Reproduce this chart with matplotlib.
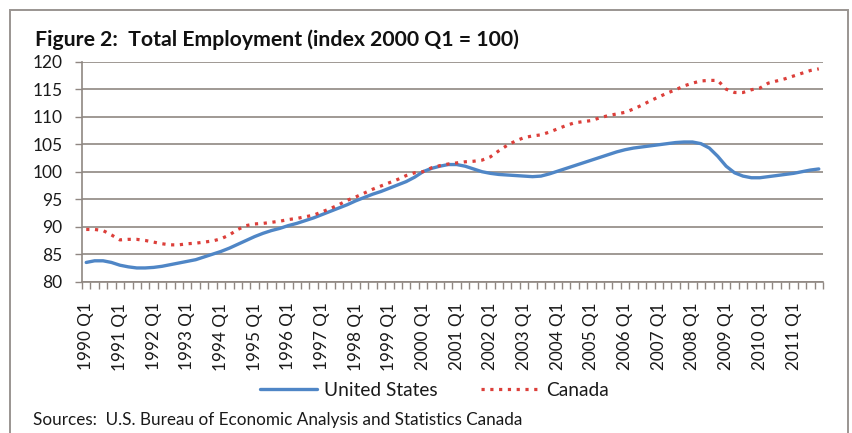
import numpy as np
import matplotlib
matplotlib.use("Agg")
import matplotlib.pyplot as plt
from matplotlib.patches import Rectangle

plt.rcParams['font.family'] = ['Lato', 'DejaVu Sans']

years = list(range(1990, 2012))
quarters = [f"{y} Q{q}" for y in years for q in range(1, 5)]
tick_labels = [f"{y} Q1" for y in years]

united_states = [
    83.5, 83.8, 83.8, 83.5, 83.0, 82.7, 82.5, 82.5, 82.6, 82.8, 83.1, 83.4,
    83.7, 84.0, 84.5, 85.0, 85.5, 86.1, 86.8, 87.5, 88.2, 88.8, 89.3, 89.7,
    90.2, 90.6, 91.1, 91.6, 92.2, 92.8, 93.4, 94.0, 94.7, 95.3, 95.9, 96.4,
    97.0, 97.6, 98.2, 99.0, 100.0, 100.6, 101.0, 101.3, 101.3, 101.0, 100.5, 100.0,
    99.7, 99.5, 99.4, 99.3, 99.2, 99.1, 99.2, 99.6, 100.1, 100.6, 101.1, 101.6,
    102.1, 102.6, 103.1, 103.6, 104.0, 104.3, 104.5, 104.7, 104.9, 105.1, 105.3, 105.4,
    105.4, 105.1, 104.3, 102.8, 101.0, 99.8, 99.2, 98.9, 98.9, 99.1, 99.3, 99.5,
    99.7, 100.0, 100.3, 100.5,
]

canada = [
    89.5, 89.5, 89.3, 88.5, 87.6, 87.7, 87.7, 87.5, 87.2, 86.9, 86.7, 86.7,
    86.9, 87.0, 87.2, 87.4, 87.8, 88.5, 89.5, 90.2, 90.5, 90.6, 90.8, 91.0,
    91.3, 91.5, 91.8, 92.1, 92.7, 93.3, 94.0, 94.8, 95.4, 96.1, 96.8, 97.4,
    98.0, 98.6, 99.3, 99.8, 100.0, 100.7, 101.1, 101.4, 101.6, 101.8, 101.9, 102.1,
    102.7, 103.8, 104.8, 105.6, 106.2, 106.5, 106.7, 107.2, 107.8, 108.4, 108.9, 109.1,
    109.3, 109.8, 110.2, 110.5, 110.8, 111.4, 112.1, 112.9, 113.6, 114.3, 114.9, 115.6,
    116.1, 116.5, 116.6, 116.6, 115.0, 114.4, 114.4, 114.9, 115.2, 116.1, 116.5, 116.9,
    117.4, 117.9, 118.4, 118.7,
]

W, H = 852, 433
fig = plt.figure(figsize=(W / 100, H / 100), dpi=100)
fig.patch.set_facecolor('white')

ax = fig.add_axes([82 / W, 1 - 281.7 / H, (823 - 82) / W, (281.7 - 61.7) / H])

x = np.arange(len(quarters))
grid_color = '#8f8782'

ax.plot(x, united_states, color='#4f86c6', lw=2.4, solid_capstyle='round',
        label='United States', zorder=3)
ax.plot(x, canada, color='#dc3f3a', lw=2.3, linestyle=(0, (1.0, 1.75)),
        dash_capstyle='butt', label='Canada', zorder=4)

ax.set_xlim(-0.5, len(quarters) - 0.5)
ax.set_ylim(80, 120)
ax.set_yticks(np.arange(80, 121, 5))
ax.yaxis.grid(True, color=grid_color, lw=1.2)
ax.set_axisbelow(True)

ax.set_xticks(x[::4])
ax.set_xticklabels(tick_labels, rotation=90, fontsize=12.3, color='#1a1a1a')
ax.set_xticks(np.arange(-0.5, len(quarters), 1), minor=True)
ax.tick_params(axis='x', which='major', length=0, pad=15)
ax.tick_params(axis='x', which='minor', length=5, width=1.0, color=grid_color)
ax.tick_params(axis='y', length=5, width=1.0, color=grid_color, pad=9,
               labelsize=12.5, labelcolor='#1a1a1a')

for side in ('top', 'right'):
    ax.spines[side].set_visible(False)
for side in ('left', 'bottom'):
    ax.spines[side].set_color(grid_color)
    ax.spines[side].set_linewidth(1.2)

fig.text(35 / W, 1 - 46 / H, 'Figure 2:  Total Employment (index 2000 Q1 = 100)',
         fontsize=15.3, fontweight='bold', color='#111111', va='baseline', ha='left')

fig.legend(loc='center', bbox_to_anchor=(434 / W, 1 - 390 / H), ncol=2,
           frameon=False, fontsize=13.8, handlelength=3.0, handletextpad=0.35,
           columnspacing=2.3, labelcolor='#1a1a1a')

fig.text(33 / W, 1 - 425 / H,
         'Sources:  U.S. Bureau of Economic Analysis and Statistics Canada',
         fontsize=12.3, color='#1a1a1a', va='baseline', ha='left')

fig.patches.append(Rectangle((10 / W, -0.05), (848 - 10) / W, 1.05 - 10 / H,
                             transform=fig.transFigure, fill=False,
                             edgecolor='#9a9592', lw=1.4))

fig.savefig('out.png', dpi=100, facecolor='white')
